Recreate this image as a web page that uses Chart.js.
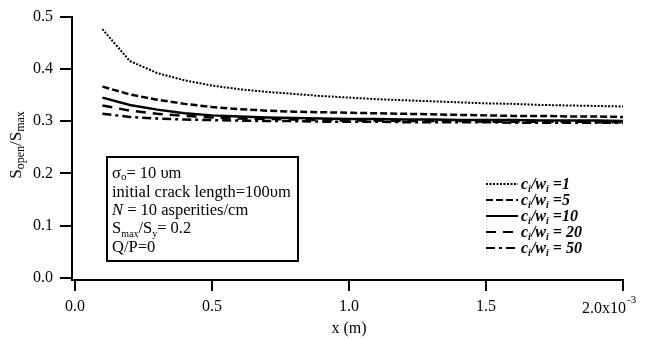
<!DOCTYPE html>
<html>
<head>
<meta charset="utf-8">
<script src="https://cdn.jsdelivr.net/npm/chart.js@4.4.0/dist/chart.umd.min.js"></script>
<style>
  html, body { margin: 0; padding: 0; background: #fff; }
  canvas { display: block; }
</style>
</head>
<body>
<canvas id="chart" width="647" height="339"></canvas>
<script>
// ----------- DATA -----------
// x positions in units of 1e-3 m (axis reads 0.0 ... 2.0x10^-3)
const xVals = [0.1, 0.2, 0.3, 0.4, 0.5, 0.6, 0.7, 0.8, 0.9, 1.0,
               1.1, 1.2, 1.3, 1.4, 1.5, 1.6, 1.7, 1.8, 1.9, 2.0];
const ratioLabels = ['1', '5', '10', '20', '50'];
const c1  = [0.476, 0.415, 0.392, 0.378, 0.368, 0.361, 0.356, 0.352, 0.348, 0.345,
             0.342, 0.340, 0.338, 0.336, 0.334, 0.333, 0.331, 0.330, 0.329, 0.328];
const c5  = [0.366, 0.351, 0.341, 0.333, 0.327, 0.323, 0.320, 0.318, 0.317, 0.316,
             0.315, 0.314, 0.313, 0.312, 0.311, 0.310, 0.310, 0.309, 0.309, 0.308];
const c10 = [0.345, 0.331, 0.322, 0.315, 0.311, 0.309, 0.307, 0.306, 0.305, 0.304,
             0.304, 0.303, 0.303, 0.302, 0.302, 0.302, 0.301, 0.301, 0.301, 0.300];
const c20 = [0.330, 0.320, 0.314, 0.310, 0.307, 0.305, 0.304, 0.303, 0.302, 0.301,
             0.301, 0.300, 0.300, 0.300, 0.299, 0.299, 0.299, 0.299, 0.298, 0.298];
const c50 = [0.314, 0.308, 0.305, 0.303, 0.302, 0.301, 0.300, 0.300, 0.299, 0.299,
             0.299, 0.298, 0.298, 0.298, 0.298, 0.297, 0.297, 0.297, 0.297, 0.297];
const xTicks = [0, 0.5, 1.0, 1.5, 2.0];
const yTicks = [0, 0.1, 0.2, 0.3, 0.4, 0.5];

const SERIF = '"Liberation Serif", "DejaVu Serif", serif';
const dashes = [[2, 1.5], [7, 3], [], [10, 7], [9, 4, 3, 4]];
const allSeries = [c1, c5, c10, c20, c50];

const datasets = allSeries.map((ys, k) => ({
  label: 'ci/wi = ' + ratioLabels[k],
  data: xVals.map((x, i) => ({ x: x, y: ys[i] })),
  borderColor: '#000',
  borderWidth: k === 0 ? 2 : 2.5,
  borderDash: dashes[k],
  pointRadius: 0,
  fill: false,
  tension: 0
}));

// ----------- TEXT HELPERS -----------
// draws a list of text runs (with sub/superscripts), returns total width
function drawRuns(ctx, x, y, runs, measureOnly) {
  let cx = x;
  runs.forEach(r => {
    const size = r.size || 16.5;
    ctx.font = (r.style || '') + ' ' + size + 'px ' + SERIF;
    if (!measureOnly) ctx.fillText(r.t, cx, y + (r.dy || 0));
    cx += ctx.measureText(r.t).width;
  });
  return cx - x;
}

const annotations = {
  id: 'annotations',
  afterDraw(chart) {
    const ctx = chart.ctx;
    const xs = chart.scales.x;
    ctx.save();
    ctx.fillStyle = '#000';
    ctx.strokeStyle = '#000';
    ctx.textBaseline = 'alphabetic';
    ctx.textAlign = 'left';

    // y axis title, rotated
    const yTitle = [
      { t: 'S', size: 17 }, { t: 'open', size: 12, dy: 3 },
      { t: '/S', size: 17 }, { t: 'max', size: 12, dy: 3 }
    ];
    ctx.save();
    ctx.translate(21, 145);
    ctx.rotate(-Math.PI / 2);
    const w = drawRuns(ctx, 0, 0, yTitle, true);
    drawRuns(ctx, -w / 2, 0, yTitle);
    ctx.restore();

    // x axis title
    ctx.font = '16px ' + SERIF;
    ctx.textAlign = 'center';
    ctx.fillText('x (m)', 349, 333);
    ctx.textAlign = 'left';

    // last x tick label with exponent
    const px = xs.getPixelForValue(2.0);
    ctx.font = '16px ' + SERIF;
    const lw = ctx.measureText('2.0x10').width;
    ctx.fillText('2.0x10', px - lw + 3, 313);
    ctx.font = '11px ' + SERIF;
    ctx.fillText('-3', px + 4, 303);

    // parameter box
    ctx.lineWidth = 2;
    ctx.strokeRect(107, 157, 191, 104);
    const boxLines = [
      [{ t: 'σ' }, { t: 'o', size: 11, dy: 2 }, { t: '= 10 υm' }],
      [{ t: 'initial crack length=100υm' }],
      [{ t: 'N', style: 'italic' }, { t: ' = 10 asperities/cm' }],
      [{ t: 'S' }, { t: 'max', size: 10, dy: 4 }, { t: '/S' }, { t: 'y', size: 10, dy: 4 }, { t: '= 0.2' }],
      [{ t: 'Q/P=0' }]
    ];
    const boxBase = [178, 197, 215, 233, 252];
    boxLines.forEach((runs, i) => drawRuns(ctx, 112, boxBase[i], runs));

    // legend
    const legY = [184, 200, 216, 232, 248];
    ratioLabels.forEach((lab, k) => {
      const y = legY[k];
      ctx.beginPath();
      ctx.setLineDash(dashes[k]);
      ctx.lineWidth = 2;
      ctx.moveTo(486, y);
      ctx.lineTo(518, y);
      ctx.stroke();
      ctx.setLineDash([]);
      const eq = k < 3 ? ' =' + lab : ' = ' + lab;
      drawRuns(ctx, 521, y + 5, [
        { t: 'c', size: 16, style: 'italic bold' },
        { t: 'i', size: 10, style: 'italic bold', dy: 3 },
        { t: '/', size: 16, style: 'italic bold' },
        { t: 'w', size: 16, style: 'italic bold' },
        { t: 'i', size: 10, style: 'italic bold', dy: 3 },
        { t: eq, size: 16, style: 'italic bold' }
      ]);
    });
    ctx.restore();
  }
};

// ----------- CHART -----------
const ctx = document.getElementById('chart').getContext('2d');
const chart = new Chart(ctx, {
  type: 'line',
  data: { datasets: datasets },
  options: {
    responsive: false,
    animation: false,
    layout: { padding: { left: 0, right: 24, top: 16, bottom: 0 } },
    plugins: { legend: { display: false }, tooltip: { enabled: false } },
    scales: {
      x: {
        type: 'linear',
        min: -0.011,
        max: 2.0,
        afterBuildTicks: axis => { axis.ticks = xTicks.map(v => ({ value: v })); },
        afterFit: axis => { axis.height = 59; },
        border: { display: true, color: '#000', width: 2 },
        grid: { drawOnChartArea: false, drawTicks: true, tickLength: 11, color: '#000', lineWidth: 2 },
        ticks: {
          color: '#000',
          font: { family: SERIF, size: 16 },
          padding: 6,
          maxRotation: 0,
          callback: v => (v === 2.0 ? '' : v.toFixed(1))
        }
      },
      y: {
        type: 'linear',
        min: -0.004,
        max: 0.5,
        afterBuildTicks: axis => { axis.ticks = yTicks.map(v => ({ value: v })); },
        afterFit: axis => { axis.width = 72; },
        border: { display: true, color: '#000', width: 2 },
        grid: { drawOnChartArea: false, drawTicks: true, tickLength: 12, color: '#000', lineWidth: 2 },
        ticks: {
          color: '#000',
          font: { family: SERIF, size: 16 },
          padding: 7,
          callback: v => v.toFixed(1)
        }
      }
    }
  },
  plugins: [annotations]
});
</script>
</body>
</html>
